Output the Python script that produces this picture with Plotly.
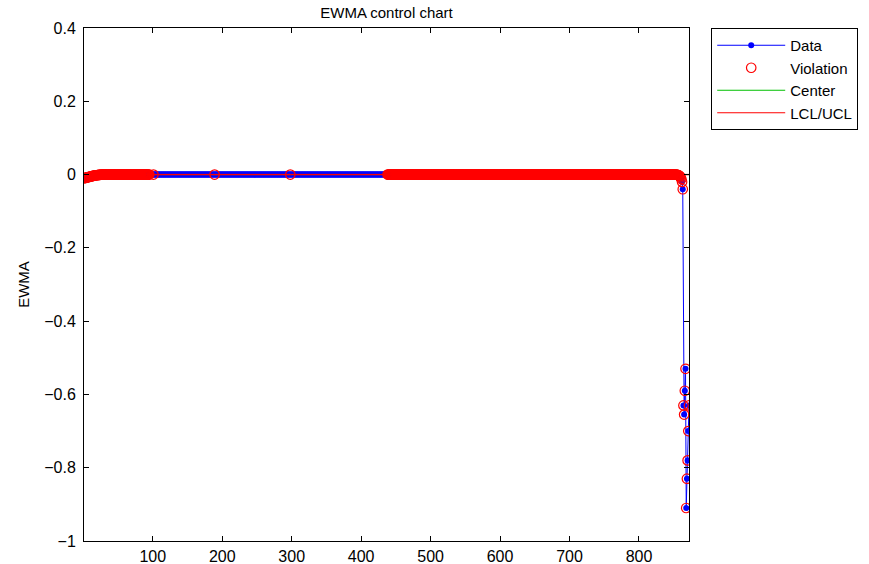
import plotly.graph_objects as go

# ---- data ----
n_points = 872
start_vals = [-0.010, -0.0095, -0.009, -0.0085, -0.008, -0.0075, -0.007, -0.0065,
              -0.006, -0.0055, -0.005, -0.0045, -0.004, -0.0035, -0.003, -0.0027,
              -0.0024, -0.0021, -0.0018, -0.0015, -0.0012, -0.001, -0.0008, -0.0006,
              -0.0004, -0.0003, -0.0002, -0.0001]
mid_level = 0.0
tail_vals = [-0.0005, -0.001, -0.002, -0.003, -0.005, -0.008, -0.012, -0.02, -0.04,
             -0.63, -0.655, -0.59, -0.53, -0.91, -0.83, -0.78, -0.70, -0.63]
n_mid = n_points - len(start_vals) - len(tail_vals)
ewma = start_vals + [mid_level] * n_mid + tail_vals
sample = list(range(1, n_points + 1))

center_level = 0.0
ucl_level = 0.0005
lcl_level = -0.0005

# violation index runs (first, last), inclusive
viol_runs = [(1, 95), (101, 101), (189, 189), (298, 298), (438, 872)]

viol_x, viol_y = [], []
for a, b in viol_runs:
    for i in range(a, b + 1):
        viol_x.append(i)
        viol_y.append(ewma[i - 1])

x_ticks = [100, 200, 300, 400, 500, 600, 700, 800]
y_ticks = [-1, -0.8, -0.6, -0.4, -0.2, 0, 0.2, 0.4]

FONT = "Liberation Sans, Arial, Helvetica, sans-serif"

fig = go.Figure()
fig.add_trace(go.Scatter(
    x=sample, y=ewma, mode="lines+markers", name="Data",
    line=dict(color="blue", width=1),
    marker=dict(color="blue", size=6),
    legendrank=1,
))
fig.add_trace(go.Scatter(
    x=[sample[0], sample[-1]], y=[center_level, center_level], mode="lines",
    name="Center", line=dict(color="#00c000", width=1), legendrank=3,
))
fig.add_trace(go.Scatter(
    x=[sample[0], sample[-1], None, sample[0], sample[-1]],
    y=[lcl_level, lcl_level, None, ucl_level, ucl_level], mode="lines",
    name="LCL/UCL", line=dict(color="red", width=1), legendrank=4,
))
fig.add_trace(go.Scatter(
    x=viol_x, y=viol_y, mode="markers", name="Violation",
    marker=dict(symbol="circle-open", color="red", size=9.5, line=dict(width=1.2, color="red")),
    legendrank=2,
))

axis_common = dict(
    showline=True, linecolor="black", linewidth=1, mirror="ticks",
    ticks="inside", ticklen=5, tickcolor="black", tickwidth=1,
    showgrid=False, zeroline=False, automargin=False,
    tickfont=dict(family=FONT, size=16, color="black"),
)

fig.update_layout(
    template="none",
    width=869, height=564,
    margin=dict(l=84, r=179, t=28, b=23, pad=0),
    paper_bgcolor="white", plot_bgcolor="white",
    font=dict(family=FONT, size=16, color="black"),
    title=dict(text="EWMA control chart", x=0.5, xref="paper", y=1 - 13 / 564,
               yref="container", xanchor="center", yanchor="middle",
               font=dict(family=FONT, size=15, color="black")),
    xaxis=dict(range=[1, n_points], tickvals=x_ticks, ticklabelstandoff=1, **axis_common),
    yaxis=dict(range=[-1, 0.4], tickvals=y_ticks, ticklabelstandoff=4,
               title=dict(text="EWMA", standoff=10, font=dict(family=FONT, size=15)),
               **axis_common),
    legend=dict(x=1.035, y=1, xanchor="left", yanchor="top",
                bordercolor="black", borderwidth=1, bgcolor="white",
                font=dict(family=FONT, size=15, color="black"),
                itemwidth=68, tracegroupgap=0),
    showlegend=True,
)

fig.write_html("out.html", config={"displayModeBar": False},
               post_script="document.body.style.margin='0';document.body.style.padding='0';")
